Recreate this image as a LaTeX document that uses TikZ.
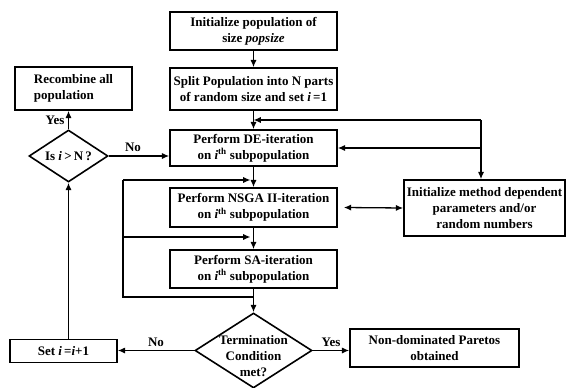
\documentclass[tikz,border=0pt]{standalone}
\usepackage{fontspec}
\setmainfont{Liberation Serif}
\usetikzlibrary{arrows.meta}
\usetikzlibrary{shapes.geometric}

\begin{document}
\begin{tikzpicture}[x=1pt, y=-1pt,
    font=\fontsize{13}{16}\selectfont\bfseries,
    box/.style={draw, line width=1.6pt, inner sep=0pt, align=center},
    dec/.style={draw, diamond, line width=1.6pt, inner sep=0pt},
    arr/.style={line width=1.3pt, -{Latex[length=2.6mm, width=2.2mm]}},
    ln/.style={line width=1.3pt}]
\useasboundingbox (0,0) rectangle (566,388);
\node[box, minimum width=167pt, minimum height=38pt] (init) at (253.5,31) {Initialize population of\\size \textit{popsize}};
\node[box, minimum width=167pt, minimum height=42pt] (split) at (253.5,89) {Split Population into N parts\\of random size and set \textit{i}\,=1};
\node[box, minimum width=167pt, minimum height=36pt] (de) at (253.5,148) {Perform DE-iteration\\on \textit{i}\textsuperscript{th} subpopulation};
\node[box, minimum width=167pt, minimum height=39pt] (nsga) at (253.5,207.5) {Perform NSGA II-iteration\\on \textit{i}\textsuperscript{th} subpopulation};
\node[box, minimum width=167pt, minimum height=38pt] (sa) at (253.5,269) {Perform SA-iteration\\on \textit{i}\textsuperscript{th} subpopulation};
\node[dec, minimum width=117pt, minimum height=75pt,
    label={[align=center, yshift=-6pt]center:Termination\\Condition\\met?}] (term) at (253.5,350.5) {};
\node[box, minimum width=107pt, minimum height=23pt] (setb) at (63.5,351) {Set \textit{i}\,=\textit{i}+1};
\node[box, minimum width=169pt, minimum height=38pt] (pareto) at (434.5,348) {Non-dominated Paretos\\obtained};
\node[box, minimum width=161pt, minimum height=56pt] (method) at (484.5,208) {Initialize method dependent\\parameters and/or\\random numbers};
\node[box, minimum width=117pt, minimum height=43pt, align=left] (recomb) at (73.5,88.5) {Recombine all\\population};
\node[dec, minimum width=79pt, minimum height=52pt,
    label={center:Is \textit{i}\,>\,N\,?}] (isn) at (68.5,156) {};

\coordinate (rt) at (481,120);
\coordinate (lt) at (123,180);
\coordinate (lm) at (123,237);
\coordinate (lb) at (123,297);

\draw[arr] (init) -- (split);
\draw[arr] (split) -- (de);
\draw[arr] (rt) -- (rt -| split.south);
\draw[arr] (rt) -- (rt |- method.north);
\draw[arr] (rt |- de.east) -- (de.east);
\draw[arr] (de) -- (nsga);
\draw[arr] (nsga) -- (sa);
\draw[arr] (sa) -- (term);
\draw[ln] (lb -| sa.south) -- (lb) -- (lt);
\draw[arr] (lt) -- ([xshift=-3pt]lt -| de.south);
\draw[arr] (lm) -- ([xshift=-3pt]lm -| nsga.south);
\draw[line width=1.3pt, {Latex[length=2.6mm, width=2.2mm]}-{Latex[length=2.6mm, width=2.2mm]}] ([xshift=6pt]nsga.east) -- (method.west);
\draw[arr] (term.west) -- (term.west -| setb.east) node[midway, above] {No};
\draw[arr] (term.east) -- (term.east -| pareto.west) node[midway, above] {Yes};
\draw[arr] (isn.south |- setb.north) -- (isn.south);
\draw[arr] (isn.north) -- (isn.north |- recomb.south) node[midway, left] {Yes};
\draw[arr] (isn.east) -- (isn.east -| de.west) node[pos=0.4, above] {No};

\end{tikzpicture}
\end{document}
